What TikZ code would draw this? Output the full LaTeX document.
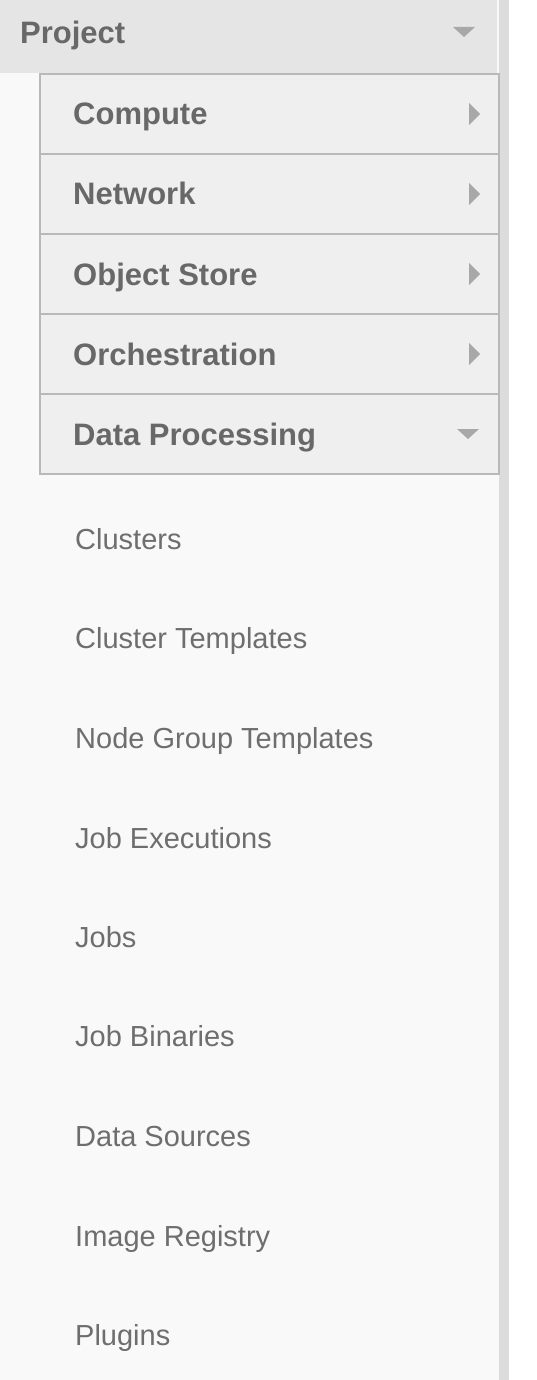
\documentclass[tikz,border=0pt]{standalone}
\usepackage{fontspec}
\setmainfont{Liberation Sans}
\definecolor{bgc}{HTML}{F9F9F9}
\definecolor{hdrc}{HTML}{E5E5E5}
\definecolor{panc}{HTML}{EFEFEF}
\definecolor{bordc}{HTML}{B9B9B9}
\definecolor{stripc}{HTML}{DCDCDC}
\definecolor{txtc}{HTML}{6E6E6E}
\definecolor{boldc}{HTML}{686868}
\definecolor{arrc}{HTML}{A8A8A8}
\tikzset{
  boldlbl/.style={anchor=base west, inner sep=0pt, text=boldc, font=\fontsize{31}{37}\selectfont\bfseries},
  itemlbl/.style={anchor=base west, inner sep=0pt, text=txtc, font=\fontsize{29}{35}\selectfont},
  panel/.style={fill=panc, draw=bordc, line width=1.6pt},
  tri/.style={fill=arrc, draw=none}
}
\begin{document}
\begin{tikzpicture}[x=1pt,y=-1pt]
\useasboundingbox (0,0) rectangle (536,1380);
% background
\fill[white] (0,0) rectangle (536,1380);
\fill[bgc] (0,0) rectangle (499,1380);
\fill[stripc] (499,0) rectangle (509,1380);
% project header
\fill[hdrc] (0,0) rectangle (497,73.5);
\node[boldlbl] (project) at (20,44) {Project};
\fill[tri] (453,27) -- (475,27) -- (464,37) -- cycle;
% panels
\foreach \t in {74,154,234,314,394} {
  \draw[panel] (40,\t) rectangle (499,\t+80);
}
\node[boldlbl] (compute) at (73,125) {Compute};
\node[boldlbl] (network) at (73,205) {Network};
\node[boldlbl] (objstore) at (73,285) {Object Store};
\node[boldlbl] (orch) at (73,365) {Orchestration};
\node[boldlbl] (dataproc) at (73,445) {Data Processing};
\foreach \c in {114,194,274,354} {
  \fill[tri] (469,\c-11) -- (480,\c) -- (469,\c+11) -- cycle;
}
\fill[tri] (457,429) -- (479,429) -- (468,439) -- cycle;
% items
\node[itemlbl] (clusters) at (75,549.5) {Clusters};
\node[itemlbl] (ctempl) at (75,648) {Cluster Templates};
\node[itemlbl] (ngtempl) at (75,748) {Node Group Templates};
\node[itemlbl] (jobexec) at (75,848) {Job Executions};
\node[itemlbl] (jobs) at (75,947.5) {Jobs};
\node[itemlbl] (jobbin) at (75,1046.5) {Job Binaries};
\node[itemlbl] (datasrc) at (75,1146) {Data Sources};
\node[itemlbl] (imgreg) at (75,1246) {Image Registry};
\node[itemlbl] (plugins) at (75,1345.5) {Plugins};
\end{tikzpicture}
\end{document}
